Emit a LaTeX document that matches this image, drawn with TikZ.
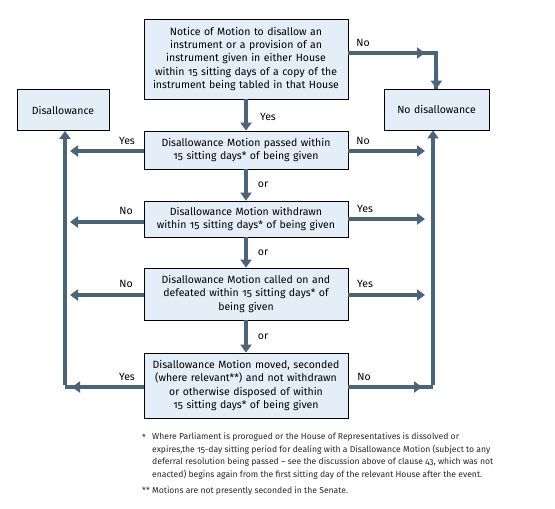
\documentclass[tikz,border=0pt]{standalone}
\usepackage{fontspec}
\setmainfont{Fira Sans}[Numbers=OldStyle]
\usepackage{xcolor}
\usepackage{tikz}
\usetikzlibrary{arrows.meta,positioning,calc}

\begin{document}
\begin{tikzpicture}[
  x=1pt, y=-1pt,
  font=\fontsize{10.5}{13.2}\selectfont,
  box/.style={draw=black, line width=0.8pt, fill=cBox, align=center, inner sep=2pt, text width=#1},
  arr/.style={-{Triangle[width=11pt,length=8pt]}, line width=3.6pt, cArr},
  ln/.style={line width=3.6pt, cArr},
  lab/.style={inner sep=1pt},
  note/.style={font=\fontsize{8.6}{12.4}\selectfont, text=black!85, inner sep=0pt},
]
\definecolor{cBox}{HTML}{E4EEF8}
\definecolor{cArr}{HTML}{4C6478}
\useasboundingbox (0,0) rectangle (555,509);

\node[box=200pt, minimum height=80pt] (notice) at (246,59) {Notice of Motion to disallow an\\instrument or a provision of an\\instrument given in either House\\within 15 sitting days of a copy of the\\instrument being tabled in that House};
\node[box=88pt, minimum height=41pt] (dis) at (63,110) {Disallowance};
\node[box=101pt, minimum height=41pt] (nodis) at (436.5,109.5) {No disallowance};
\node[box=200pt, minimum height=38pt] (passed) at (246,150) {Disallowance Motion passed within\\15 sitting days* of being given};
\node[box=200pt, minimum height=36pt] (withdr) at (246,219) {Disallowance Motion withdrawn\\within 15 sitting days* of being given};
\node[box=200pt, minimum height=52pt] (called) at (246,294) {Disallowance Motion called on and\\defeated within 15 sitting days* of\\being given};
\node[box=200pt, minimum height=65pt] (moved) at (246,385.5) {Disallowance Motion moved, seconded\\(where relevant**) and not withdrawn\\or otherwise disposed of within\\15 sitting days* of being given};

\coordinate (nR) at (436,53);
\coordinate (lC) at (65,387);
\coordinate (rC) at (433,387);

% top branch
\draw[ln] (notice.east|-nR) -- (nR) -- ([xshift=-0.5pt]nodis.north);
\draw[arr] (notice.east|-nR) -- (425,53);
\draw[arr] (nR) -- (nodis.north);
\node[lab] at (363,43) {No};
\draw[arr] (notice) -- (passed);
\node[lab] at (268,117) {Yes};

% side arrows
\draw[arr] (passed.west|-0,151) -- (70,151);
\node[lab] at (127,141) {Yes};
\draw[arr] (passed.east|-0,151) -- (425,151);
\node[lab] at (363,141) {No};
\draw[arr] (passed) -- (withdr);
\node[lab] at (263,185) {or};

\draw[arr] (withdr.west|-0,222) -- (70,222);
\node[lab] at (126,211) {No};
\draw[arr] (withdr.east|-0,219) -- (425,219);
\node[lab] at (365,209) {Yes};
\draw[arr] (withdr) -- (called);
\node[lab] at (263,253) {or};

\draw[arr] (called.west|-0,295) -- (70,295);
\node[lab] at (126,284) {No};
\draw[arr] (called.east|-0,295) -- (425,295);
\node[lab] at (365,284) {Yes};
\draw[arr] (called) -- (moved);
\node[lab] at (263,337) {or};

% outer returns
\draw[ln] (moved.west|-lC) -- (lC);
\draw[arr] ([yshift=1.8pt]lC) -- (dis.south-|lC);
\draw[arr] (moved.west|-lC) -- (72,387);
\node[lab] at (127,377) {Yes};
\draw[ln] (moved.east|-rC) -- (rC);
\draw[arr] ([yshift=1.8pt]rC) -- (nodis.south-|rC);
\draw[arr] (moved.east|-rC) -- (422,387);
\node[lab] at (364,377) {No};

% footnotes
\node[note, anchor=north] (m1) at (144,434) {*};
\node[note, anchor=north west, align=left] (f1) at (152,433) {Where Parliament is prorogued or the House of Representatives is dissolved or\\expires,the 15-day sitting period for dealing with a Disallowance Motion (subject to any\\deferral resolution being passed -- see the discussion above of clause 43, which was not\\enacted) begins again from the first sitting day of the relevant House after the event.};
\node[note, anchor=north] (m2) at (146,487) {**};
\node[note, anchor=north west] (f2) at (152,487) {Motions are not presently seconded in the Senate.};
\end{tikzpicture}
\end{document}
